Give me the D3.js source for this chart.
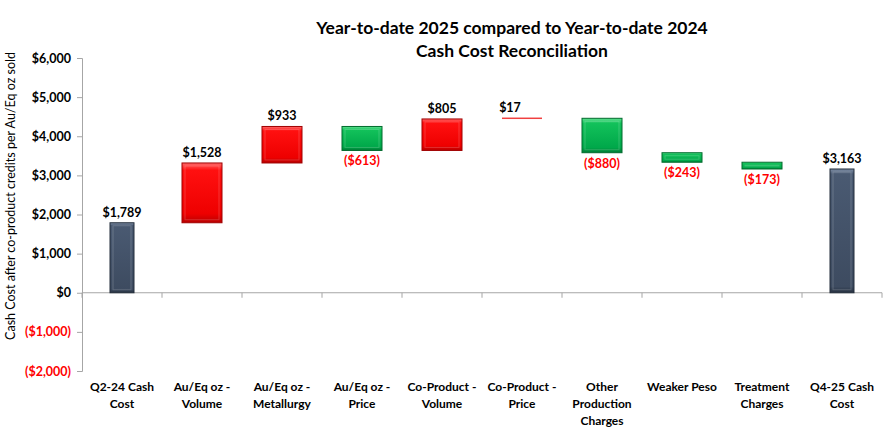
<!DOCTYPE html>
<html><head><meta charset="utf-8">
<script src="https://cdn.jsdelivr.net/npm/d3@7"></script>
<style>body{margin:0;background:#fff}text{font-family:Lato,"Open Sans",sans-serif}</style>
</head><body><svg id="c" width="896" height="431"></svg>
<script>
const categories = [["Q2-24 Cash","Cost"],["Au/Eq oz -","Volume"],["Au/Eq oz -","Metallurgy"],["Au/Eq oz -","Price"],["Co-Product -","Volume"],["Co-Product -","Price"],["Other","Production","Charges"],["Weaker Peso"],["Treatment","Charges"],["Q4-25 Cash","Cost"]];
const values = [1789, 1528, 933, -613, 805, 17, -880, -243, -173, 3163];
const kinds = ["total","delta","delta","delta","delta","delta","delta","delta","delta","total"];
const yTicks = [6000,5000,4000,3000,2000,1000,0,-1000,-2000];
const title = ["Year-to-date 2025 compared to Year-to-date 2024","Cash Cost Reconciliation"];
const yLabel = "Cash Cost after co-product credits per Au/Eq oz sold";

const svg = d3.select("#c");
const fmt = v => v < 0 ? "($" + d3.format(",")(-v) + ")" : "$" + d3.format(",")(v);
const x = d3.scaleBand().domain(d3.range(categories.length)).range([82, 882]);
const y = d3.scaleLinear().domain([-2000, 6000]).range([371, 58]);

const defs = svg.append("defs");
function grad(id, stops){
  const g = defs.append("linearGradient").attr("id", id).attr("x1",0).attr("y1",0).attr("x2",0).attr("y2",1);
  stops.forEach(s=>g.append("stop").attr("offset",s[0]).attr("stop-color",s[1]));
}
grad("gRed",[[0,"#ff6a6a"],[0.12,"#ff1010"],[0.85,"#ee0000"],[1,"#b80000"]]);
grad("gGreen",[[0,"#5fe08f"],[0.15,"#12c15a"],[0.85,"#00a84a"],[1,"#007a34"]]);
grad("gDark",[[0,"#8090a8"],[0.04,"#4a5a72"],[0.95,"#3d4b60"],[1,"#263140"]]);

svg.append("g").selectAll("text").data(title).join("text")
  .attr("x", 512).attr("y",(d,i)=>34+i*23).attr("text-anchor","middle")
  .attr("font-size",17.5).attr("font-weight","bold").attr("fill","#000").text(d=>d);

svg.append("text").attr("transform","translate(15,196) rotate(-90)").attr("text-anchor","middle")
  .attr("font-size",12.5).attr("fill","#000").text(yLabel);

const yAxis = d3.axisLeft(y).tickValues(yTicks).tickSize(5).tickFormat(fmt);
const ga = svg.append("g").attr("transform","translate(82,0)").call(yAxis);
ga.select(".domain").attr("stroke","#a6a6a6");
ga.selectAll(".tick line").attr("stroke","#a6a6a6");
ga.selectAll(".tick text").attr("x",-11).attr("font-size",12.5).attr("font-weight","bold")
  .attr("font-family","Lato,sans-serif").attr("fill",d=>d<0?"#ff0000":"#000");

svg.append("line").attr("x1",82).attr("x2",882).attr("y1",y(0)).attr("y2",y(0)).attr("stroke","#a6a6a6");
svg.append("g").selectAll("line").data(d3.range(categories.length+1)).join("line")
  .attr("x1",i=>82+i*x.step()).attr("x2",i=>82+i*x.step())
  .attr("y1",y(0)).attr("y2",y(0)+5).attr("stroke","#a6a6a6");

let run = 0;
const bars = values.map((v,i)=>{
  let lo, hi;
  if(kinds[i]==="total"){ lo=0; hi=v; run=v; }
  else { const s=run; run+=v; lo=Math.min(s,run); hi=Math.max(s,run); }
  return {i,v,lo,hi,kind:kinds[i]};
});

const g = svg.append("g");
bars.forEach(b=>{
  const cx = x(b.i)+x.bandwidth()/2;
  const w = b.kind==="total"?24:40;
  const top = y(b.hi), bot = y(b.lo);
  const h = Math.max(bot-top, 1.5);
  const fill = b.kind==="total"?"url(#gDark)":(b.v>0?"url(#gRed)":"url(#gGreen)");
  const stroke = b.kind==="total"?"#222c3a":(b.v>0?"#a00000":"#006b2d");
  if(Math.abs(b.v) < 50){
    g.append("rect").attr("x",cx-w/2).attr("y",top-0.75).attr("width",w).attr("height",1.5).attr("fill","#f04040");
  } else {
    g.append("rect").attr("x",cx-w/2).attr("y",top).attr("width",w).attr("height",h)
      .attr("fill",fill).attr("stroke",stroke).attr("stroke-width",1);
    g.append("rect").attr("x",cx-w/2+3).attr("y",top+3).attr("width",w-6).attr("height",Math.max(h-6,0))
      .attr("fill","none").attr("stroke","rgba(255,255,255,0.18)").attr("stroke-width",1);
  }
  const label = g.append("text").attr("x",cx).attr("text-anchor","middle").attr("font-size",12.5)
    .attr("font-weight","bold").text(fmt(b.v));
  if(b.v>=0){ label.attr("y",top-6).attr("fill","#000"); if(Math.abs(b.v)<50) label.attr("x",cx-12); }
  else { label.attr("y",bot+15).attr("fill","#ff0000"); }
});

categories.forEach((lines,i)=>{
  const cx = x(i)+x.bandwidth()/2;
  svg.append("text").attr("text-anchor","middle").attr("font-size",12).attr("font-weight","bold")
    .attr("fill","#000")
    .selectAll("tspan").data(lines).join("tspan").attr("x",cx).attr("y",(d,j)=>391+j*17).text(d=>d);
});
</script></body></html>
